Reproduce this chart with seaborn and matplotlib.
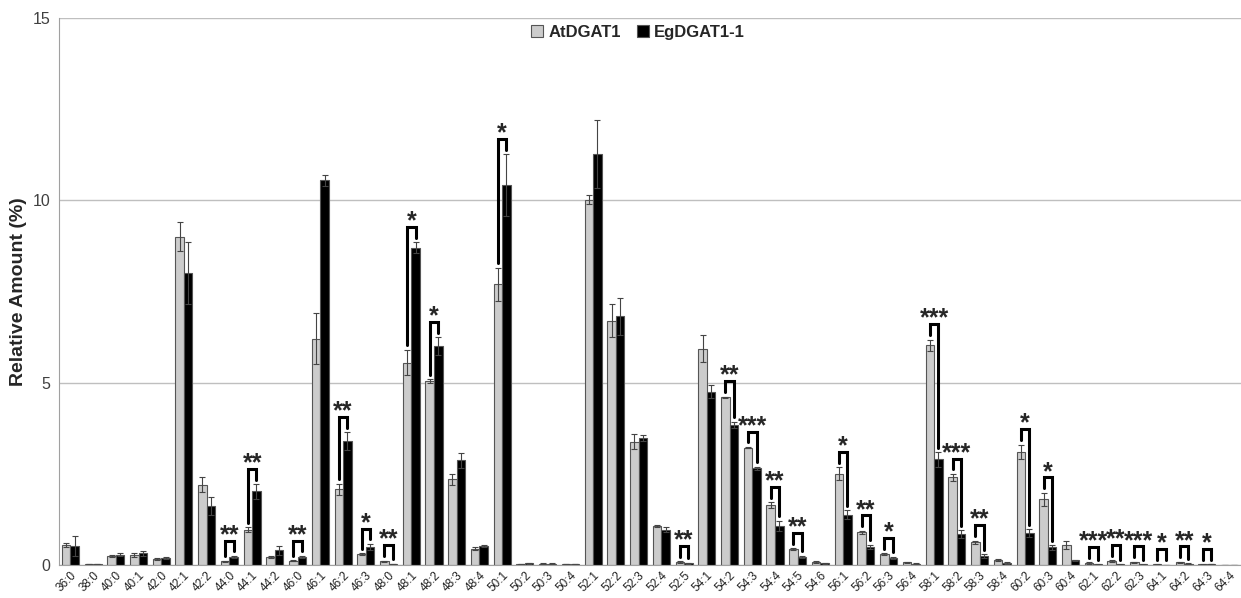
import matplotlib
matplotlib.use("Agg")
import matplotlib.pyplot as plt
import pandas as pd
import seaborn as sns

# TAG species and their relative amounts (mean, error) for each construct
species = ["36:0", "38:0", "40:0", "40:1", "42:0", "42:1", "42:2", "44:0", "44:1", "44:2",
           "46:0", "46:1", "46:2", "46:3", "48:0", "48:1", "48:2", "48:3", "48:4", "50:1",
           "50:2", "50:3", "50:4", "52:1", "52:2", "52:3", "52:4", "52:5", "54:1", "54:2",
           "54:3", "54:4", "54:5", "54:6", "56:1", "56:2", "56:3", "56:4", "58:1", "58:2",
           "58:3", "58:4", "60:2", "60:3", "60:4", "62:1", "62:2", "62:3", "64:1", "64:2",
           "64:3", "64:4"]

at_mean = [0.55, 0.02, 0.25, 0.28, 0.17, 9.0, 2.2, 0.1, 0.97, 0.22,
           0.12, 6.2, 2.08, 0.3, 0.1, 5.55, 5.05, 2.35, 0.45, 7.7,
           0.03, 0.04, 0.03, 10.02, 6.7, 3.38, 1.07, 0.08, 5.93, 4.6,
           3.22, 1.65, 0.43, 0.08, 2.5, 0.9, 0.3, 0.07, 6.03, 2.4,
           0.62, 0.13, 3.1, 1.8, 0.55, 0.05, 0.1, 0.07, 0.02, 0.07,
           0.02, 0.01]
at_err = [0.06, 0.0, 0.03, 0.05, 0.03, 0.4, 0.2, 0.02, 0.07, 0.02,
          0.02, 0.7, 0.15, 0.03, 0.02, 0.35, 0.05, 0.15, 0.03, 0.45,
          0.01, 0.01, 0.01, 0.12, 0.45, 0.2, 0.02, 0.02, 0.37, 0.02,
          0.02, 0.08, 0.03, 0.02, 0.18, 0.04, 0.03, 0.01, 0.15, 0.1,
          0.05, 0.03, 0.2, 0.18, 0.1, 0.02, 0.03, 0.02, 0.01, 0.02,
          0.01, 0.0]
eg_mean = [0.52, 0.02, 0.28, 0.32, 0.2, 8.0, 1.62, 0.22, 2.02, 0.4,
           0.22, 10.55, 3.4, 0.5, 0.03, 8.7, 6.0, 2.87, 0.53, 10.42,
           0.05, 0.04, 0.03, 11.27, 6.82, 3.48, 0.97, 0.05, 4.75, 3.85,
           2.65, 1.07, 0.22, 0.05, 1.38, 0.5, 0.2, 0.04, 2.9, 0.85,
           0.25, 0.05, 0.88, 0.48, 0.13, 0.02, 0.02, 0.02, 0.01, 0.04,
           0.02, 0.0]
eg_err = [0.28, 0.0, 0.04, 0.06, 0.03, 0.85, 0.25, 0.03, 0.2, 0.12,
          0.03, 0.15, 0.25, 0.08, 0.01, 0.15, 0.25, 0.2, 0.03, 0.85,
          0.01, 0.01, 0.01, 0.93, 0.5, 0.08, 0.06, 0.01, 0.18, 0.08,
          0.05, 0.15, 0.04, 0.01, 0.12, 0.06, 0.03, 0.01, 0.2, 0.1,
          0.05, 0.02, 0.1, 0.06, 0.02, 0.01, 0.01, 0.01, 0.0, 0.01,
          0.0, 0.0]
signif = ["", "", "", "", "", "", "", "**", "**", "",
          "**", "", "**", "*", "**", "*", "*", "", "", "*",
          "", "", "", "", "", "", "", "**", "", "**",
          "***", "**", "**", "", "*", "**", "*", "", "***", "***",
          "**", "", "*", "*", "", "***", "**", "***", "*", "**",
          "*", ""]

n = len(species)
df = pd.DataFrame({
    "species": species * 2,
    "value": at_mean + eg_mean,
    "line": ["AtDGAT1"] * n + ["EgDGAT1-1"] * n,
})

sns.set_style("white")
plt.rcParams["font.family"] = ["Liberation Sans", "DejaVu Sans"]

fig = plt.figure(figsize=(12.41, 5.98), dpi=100)
ax = fig.add_axes([0.0475, 0.0552, 0.9525, 0.9147])

sns.barplot(data=df, x="species", y="value", hue="line",
            palette={"AtDGAT1": "#cccccc", "EgDGAT1-1": "#000000"},
            edgecolor="#555555", linewidth=0.8, width=0.75,
            errorbar=None, ax=ax)

# error bars on top of the bars
centers = []
for cont, errs in zip(ax.containers, [at_err, eg_err]):
    xs = [p.get_x() + p.get_width() / 2 for p in cont]
    hs = [p.get_height() for p in cont]
    centers.append(xs)
    ax.errorbar(xs, hs, yerr=errs, fmt="none", ecolor="#444444",
                elinewidth=0.8, capsize=2, capthick=0.8)

# significance brackets
for i, s in enumerate(signif):
    if not s:
        continue
    xa, xb = centers[0][i], centers[1][i]
    ya = at_mean[i] + at_err[i] + 0.12
    yb = eg_mean[i] + eg_err[i] + 0.12
    ytop = max(ya, yb) + 0.3
    ax.plot([xa, xa, xb, xb], [ya, ytop, ytop, yb], color="black", lw=2.2,
            solid_joinstyle="miter")
    ax.text((xa + xb) / 2, ytop - 0.04, s, ha="center", va="baseline",
            fontsize=18, fontweight="bold")

ax.set_ylim(0, 15)
ax.set_xlim(-0.5, n - 0.5)
ax.set_yticks([0, 5, 10, 15])
ax.yaxis.grid(True, color="#bfbfbf", lw=1)
ax.set_axisbelow(True)
for side in ["top", "right"]:
    ax.spines[side].set_visible(False)
for side in ["left", "bottom"]:
    ax.spines[side].set_color("#a0a0a0")

ax.tick_params(axis="y", length=0, labelsize=11.5, labelcolor="#404040", pad=6)
ax.tick_params(axis="x", which="major", length=0, labelsize=8.5, labelcolor="#222222", pad=3)
ax.set_xticks([i + 0.5 for i in range(-1, n)], minor=True)
ax.tick_params(axis="x", which="minor", length=4, color="#a0a0a0", direction="out")
plt.setp(ax.get_xticklabels(), rotation=45, ha="right", rotation_mode="anchor")

ax.set_xlabel("")
ax.set_ylabel("Relative Amount (%)", fontsize=14, fontweight="bold", labelpad=4)

ax.legend(loc="upper center", bbox_to_anchor=(0.49, 1.015), ncol=2, frameon=False,
          prop={"weight": "bold", "size": 12}, handlelength=0.7, handleheight=0.7,
          handletextpad=0.3, columnspacing=1.0)

fig.savefig("out.png", dpi=100)
